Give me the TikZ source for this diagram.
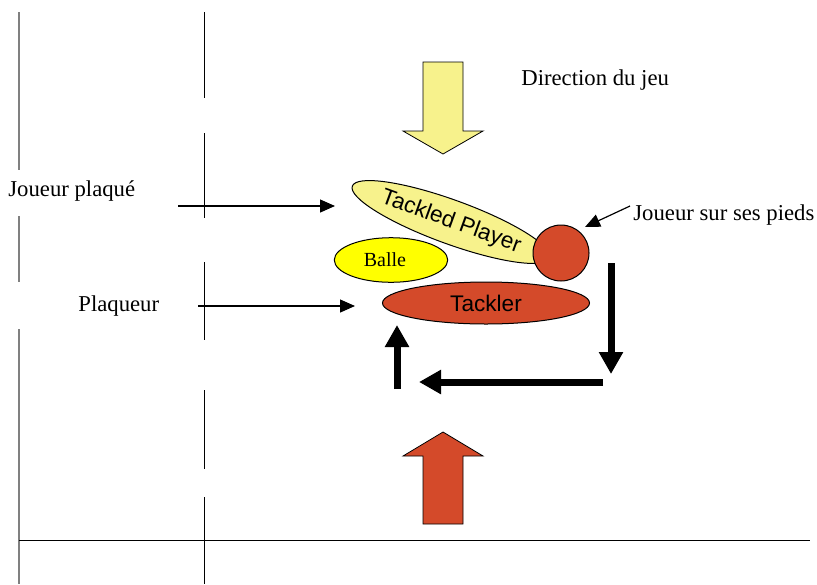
\documentclass[tikz,border=0pt]{standalone}
\usepackage{fontspec}
\setmainfont{Liberation Serif}
\setsansfont{Liberation Sans}
\usetikzlibrary{arrows.meta}
\usetikzlibrary{shapes.geometric}
\definecolor{paleyellow}{RGB}{247,242,140}
\definecolor{ballyellow}{RGB}{255,255,0}
\definecolor{tacklered}{RGB}{212,74,42}

\begin{document}
\begin{tikzpicture}[x=0.5pt,y=-0.5pt,font=\fontsize{11.35}{13}\selectfont,
  blob/.style={ellipse,draw,line width=0.5pt,inner sep=0pt},
  label/.style={anchor=west,inner sep=0pt},
  pointer/.style={line width=0.6pt,-{Triangle[length=7.5pt,width=6.5pt]}},
  move/.style={line width=3.5pt,-{Triangle[length=11pt,width=11.5pt]}},
  bigarrow/.style={draw,line width=0.4pt,line join=miter}]
\useasboundingbox (0,0) rectangle (817,584);
\foreach \a/\b in {12/170, 216/282, 329/584}
 \draw[gray, line width=0.6pt] (19,\a) -- (19,\b);
\foreach \a/\b in {12/98, 133/218, 262/340, 390/469, 497/584}
 \draw[line width=0.5pt] (204,\a) -- (204,\b);
\draw[line width=0.5pt] (19,540) -- (810,540);

\draw[bigarrow, fill=paleyellow] (423,62) -- (463,62) -- (463,131) -- (483,131) -- (443,154) -- (403,131) -- (423,131) -- cycle;
\draw[bigarrow, fill=tacklered] (423,524) -- (463,524) -- (463,456) -- (483,456) -- (443,432) -- (403,456) -- (423,456) -- cycle;

\node[blob, fill=paleyellow, rotate=-20, minimum width=105pt, minimum height=22pt, font=\sffamily\fontsize{11.3}{13}\selectfont] (tackled) at (451,222) {Tackled Player};
\node[circle, draw, line width=0.5pt, fill=tacklered, minimum size=28pt, inner sep=0pt] (feet) at (561,253) {};
\node[blob, fill=ballyellow, minimum width=56.7pt, minimum height=22.3pt, font=\fontsize{10}{11}\selectfont] (ball) at (391,260) {Balle\hspace*{6pt}};
\node[blob, fill=tacklered, minimum width=103.5pt, minimum height=21pt, font=\sffamily\fontsize{11.3}{13}\selectfont] (tackler) at (486,303) {Tackler};

\node[label] (plaque) at (8,191) {Joueur plaqué};
\node[label] (plaqueur) at (78,306) {Plaqueur};
\node[label] (direction) at (521,80) {Direction du jeu};
\node[label] (pieds) at (633,215) {Joueur sur ses pieds};

\coordinate (plaqueA) at (178,206);
\coordinate (plaqueB) at (335,206);
\coordinate (plaqueurA) at (198,306);
\coordinate (plaqueurB) at (355,306);
\coordinate (piedsA) at (630,206);
\coordinate (piedsB) at (585,227);
\draw[pointer] (plaqueA) -- (plaqueB);
\draw[pointer] (plaqueurA) -- (plaqueurB);
\draw[pointer] (piedsA) -- (piedsB);

\coordinate (runA) at (611,263);
\coordinate (runB) at (611,374);
\coordinate (runC) at (603,382);
\coordinate (runD) at (419,382);
\coordinate (runE) at (397,389);
\coordinate (runF) at (397,325);
\draw[move] (runA) -- (runB);
\draw[move] (runC) -- (runD);
\draw[move] (runE) -- (runF);
\end{tikzpicture}
\end{document}
